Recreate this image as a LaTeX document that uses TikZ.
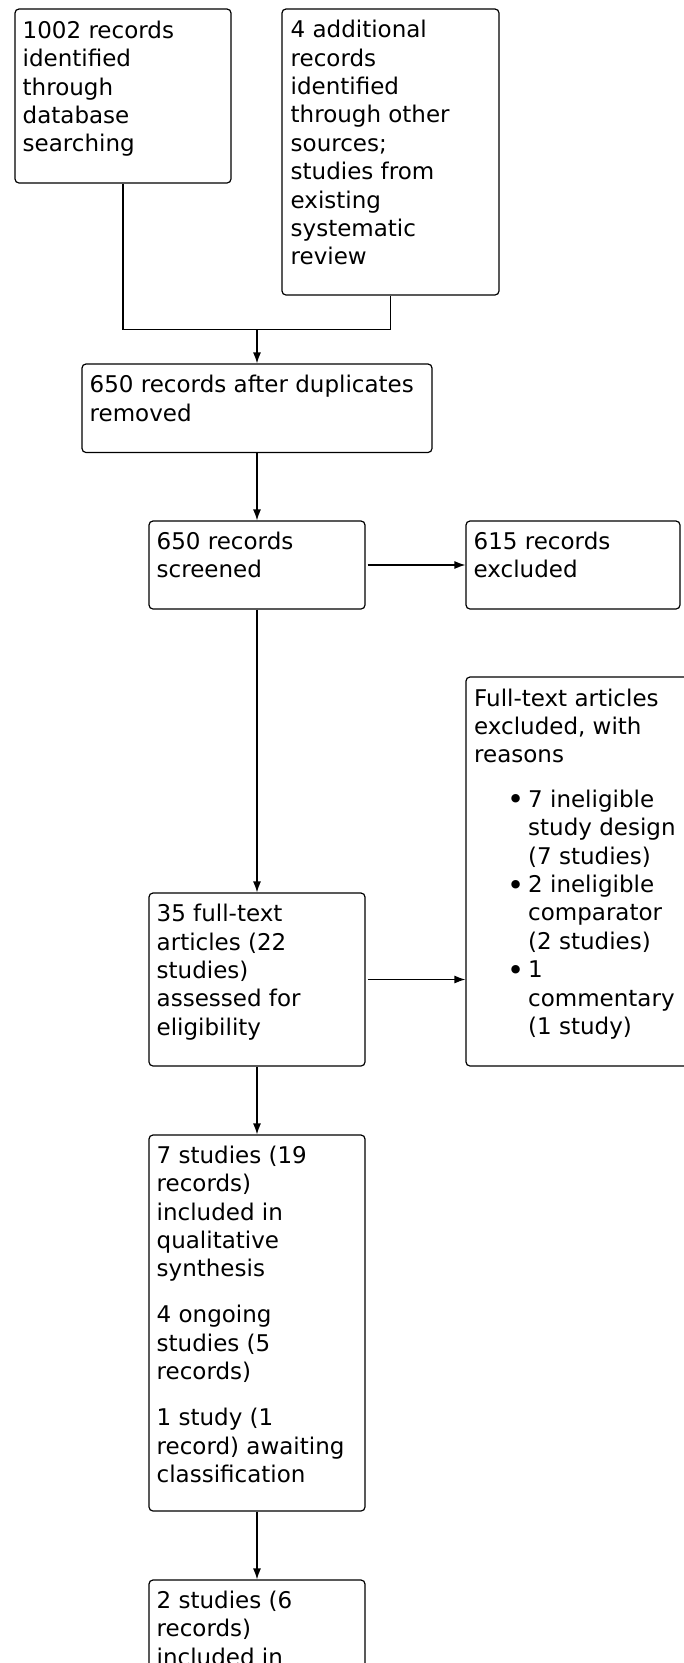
\documentclass[tikz,border=0pt]{standalone}
\usepackage{fontspec}
\setmainfont{DejaVu Sans}
\usetikzlibrary{arrows.meta}
\newcommand\tx[1]{\parbox[t]{420pt}{\fontsize{23pt}{28.4pt}\selectfont\raggedright #1}}
\newcommand\bul{\leavevmode\llap{\raisebox{-2.5pt}{\fontsize{29pt}{28.4pt}\selectfont •}\hspace{4pt}}}
\begin{document}
\begin{tikzpicture}[x=1pt,y=-1pt,
  box/.style={draw,line width=1.2pt,rounded corners=4pt,inner sep=0pt},
  txt/.style={inner sep=0pt,anchor=base west},
  ln/.style={line width=1.2pt},
  arr/.style={line width=1.2pt,-{Latex[length=11pt,width=8pt]}}]
\useasboundingbox (0,0) rectangle (684,1663);
\fill[white] (0,0) rectangle (684,1663);
% boxes
\node[box,minimum width=216pt,minimum height=174pt] (b1) at (123,96) {};
\node[box,minimum width=217pt,minimum height=286pt] (b2) at (390.5,152) {};
\node[box,minimum width=350pt,minimum height=88.5pt] (b3) at (257,408.25) {};
\node[box,minimum width=216pt,minimum height=88pt] (b4) at (257,565) {};
\node[box,minimum width=214pt,minimum height=88pt] (b5) at (573,565) {};
\node[box,minimum width=254pt,minimum height=389pt] (b6) at (593,871.5) {};
\node[box,minimum width=216pt,minimum height=173pt] (b7) at (257,979.5) {};
\node[box,minimum width=216pt,minimum height=376pt] (b8) at (257,1323) {};
\node[box,minimum width=216pt,minimum height=160pt] (b9) at (257,1660) {};
% texts
\node[txt] (t1) at (22.5,38.3) {\tx{1002 records\\identified\\through\\database\\searching}};
\node[txt] (t2) at (290.5,37.7) {\tx{4 additional\\records\\identified\\through other\\sources;\\studies from\\existing\\systematic\\review}};
\node[txt] (t3) at (89.5,392.7) {\tx{650 records after duplicates\\removed}};
\node[txt] (t4) at (156.5,549.5) {\tx{650 records\\screened}};
\node[txt] (t5) at (473.5,549.5) {\tx{615 records\\excluded}};
\node[txt] (t6) at (474,706) {\tx{Full-text articles\\excluded, with\\reasons}};
\node[txt] (t6b) at (528,807.3) {\tx{\bul 7 ineligible\\study design\\(7 studies)\\\bul 2 ineligible\\comparator\\(2 studies)\\\bul 1\\commentary\\(1 study)}};
\node[txt] (t7) at (156.5,921.7) {\tx{35 full-text\\articles (22\\studies)\\assessed for\\eligibility}};
\node[txt] (t8) at (156.5,1163.3) {\tx{7 studies (19\\records)\\included in\\qualitative\\synthesis\\[17.6pt]4 ongoing\\studies (5\\records)\\[17.6pt]1 study (1\\record) awaiting\\classification}};
\node[txt] (t9) at (156.5,1608.3) {\tx{2 studies (6\\records)\\included in}};
% connectors
\coordinate (m) at (257,329.5);
\draw[ln] (b1.south) |- (b2.south |- m) -- (b2.south);
\draw[arr] (m) -- (b3.north);
\draw[arr] (b3.south) -- (b4.north);
\draw[arr,shorten <=2pt] (b4.east) -- (b5.west);
\draw[arr] (b4.south) -- (b7.north);
\draw[arr,shorten <=2pt] (b7.east) -- (b6.west |- b7.east);
\draw[arr] (b7.south) -- (b8.north);
\draw[arr] (b8.south) -- (b9.north);
\end{tikzpicture}
\end{document}
